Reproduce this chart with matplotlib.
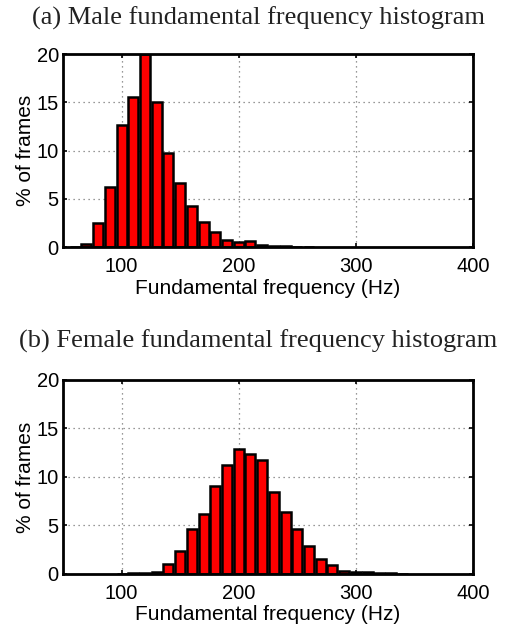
import matplotlib
matplotlib.use("Agg")
import matplotlib.pyplot as plt
import numpy as np

# Bin centres (Hz)
male_bins = [60, 70, 80, 90, 100, 110, 120, 130, 140, 150, 160, 170, 180, 190,
             200, 210, 220, 230, 240, 250, 260]
male_pct = [0.05, 0.35, 2.5, 6.2, 12.6, 15.5, 20.0, 15.0, 9.7, 6.65, 4.3, 2.6,
            1.6, 0.76, 0.48, 0.65, 0.24, 0.15, 0.1, 0.05, 0.03]

female_bins = [100, 110, 120, 130, 140, 150, 160, 170, 180, 190, 200, 210, 220,
               230, 240, 250, 260, 270, 280, 290, 300, 310, 320, 330, 340]
female_pct = [0.02, 0.05, 0.1, 0.2, 1.03, 2.37, 4.6, 6.2, 9.1, 11.2, 12.85, 12.4,
              11.75, 8.5, 6.35, 4.6, 2.9, 1.5, 0.93, 0.34, 0.2, 0.2, 0.1, 0.05, 0.03]

titles = ["(a) Male fundamental frequency histogram",
          "(b) Female fundamental frequency histogram"]
xlabel = "Fundamental frequency (Hz)"
ylabel = "% of frames"
xticks = [100, 200, 300, 400]
yticks = [0, 5, 10, 15, 20]

fig = plt.figure(figsize=(5.05, 6.26), dpi=100)
sans = "Liberation Sans"
serif = "Liberation Serif"

axes_rects = [[0.1248, 0.6054, 0.8119, 0.3083],
              [0.1248, 0.0831, 0.8119, 0.3099]]
title_y = [0.971, 0.455]
data = [(male_bins, male_pct), (female_bins, female_pct)]

for rect, ty, title, (b, p) in zip(axes_rects, title_y, titles, data):
    ax = fig.add_axes(rect)
    ax.bar(b, p, width=8.6, color="#ff0000", edgecolor="black", linewidth=1.8,
           zorder=3)
    ax.set_xlim(50, 400)
    ax.set_ylim(0, 20)
    ax.set_xticks(xticks)
    ax.set_yticks(yticks)
    ax.grid(True, linestyle=(0, (1, 3)), color="#777777", linewidth=0.9, zorder=0)
    for s in ax.spines.values():
        s.set_linewidth(2)
        s.set_zorder(4)
    ax.tick_params(direction="in", length=3, width=1.2, top=True, right=True,
                   labelsize=14.5)
    ax.tick_params(axis="x", pad=7)
    ax.tick_params(axis="y", pad=3)
    for lbl in ax.get_xticklabels() + ax.get_yticklabels():
        lbl.set_fontfamily(sans)
    ax.set_xlabel(xlabel, fontsize=15, family=sans, labelpad=2)
    ax.set_ylabel(ylabel, fontsize=15, family=sans, labelpad=1)
    fig.text(0.512, ty, title, ha="center", va="center", fontsize=19,
             family=serif, color="#222222")

fig.savefig("out.png", dpi=100)
